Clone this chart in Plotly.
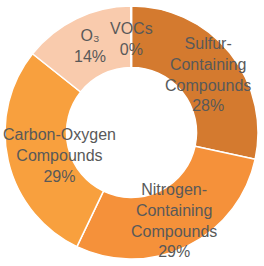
import math
import plotly.graph_objects as go

# ---- data ----
categories = ["Sulfur-Containing Compounds", "Nitrogen-Containing Compounds",
              "Carbon-Oxygen Compounds", "O₃", "VOCs"]
label_text = ["Sulfur-<br>Containing<br>Compounds", "Nitrogen-<br>Containing<br>Compounds",
              "Carbon-Oxygen<br>Compounds", "O₃", "VOCs"]
values = [28.4, 28.7, 28.6, 14.2, 0.1]

# ---- style ----
colors = ["#D47A2F", "#F5913A", "#F8A03E", "#F9CBAD", "#E8E8E8"]
label_radius = [1.0, 1.02, 0.79, 1.0, 0.98]  # fraction of ring mid-radius
label_shift_deg = [1.5, 0, -5, 0, 0]
W, H = 264, 266
cx, cy, R = 131.5, 132.5, 126.5
hole = 0.514
font = dict(family="Liberation Sans", size=16, color="#595959")

fig = go.Figure(go.Pie(
    labels=categories, values=values, sort=False, direction="clockwise",
    rotation=0, hole=hole, textinfo="none", hoverinfo="label+percent",
    marker=dict(colors=colors, line=dict(color="white", width=1.5)),
    domain=dict(x=[(cx - R) / W, (cx + R) / W], y=[1 - (cy + R) / H, 1 - (cy - R) / H]),
    showlegend=False,
))

total = sum(values)
cum = 0.0
mid_r = R * (1 + hole) / 2
for txt, v, rf, sh in zip(label_text, values, label_radius, label_shift_deg):
    mid = (cum + v / 2) / total * 2 * math.pi + math.radians(sh)
    cum += v
    rr = mid_r * rf
    px = cx + rr * math.sin(mid)
    py = cy - rr * math.cos(mid)
    pct = round(v / total * 100)
    fig.add_annotation(x=px / W, y=1 - py / H, xref="paper", yref="paper",
                       text=f"{txt}<br>{pct}%", showarrow=False, font=font,
                       xanchor="center", yanchor="middle", align="center")

fig.update_layout(width=W, height=H, margin=dict(l=0, r=0, t=0, b=0),
                  paper_bgcolor="white", plot_bgcolor="white")
fig.write_html("out.html", config={"displayModeBar": False},
               post_script="document.body.style.margin='0';")
